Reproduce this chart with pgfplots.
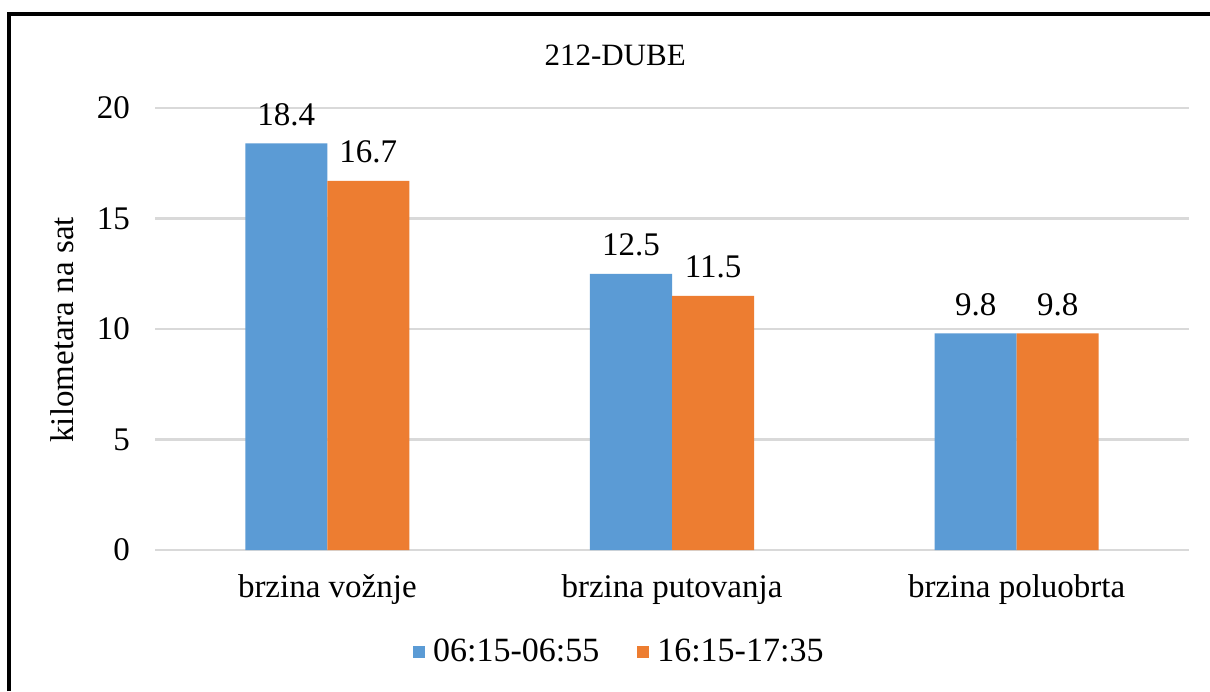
\documentclass[border=0pt]{standalone}
\usepackage{pgfplots}
\pgfplotsset{compat=1.18}
\usepackage{fontspec}
\setmainfont{Liberation Serif}
\definecolor{sblue}{HTML}{5B9BD5}
\definecolor{sorange}{HTML}{ED7D31}
\definecolor{gridc}{HTML}{D9D9D9}
\pgfplotstableread{
x a b
0 18.4 16.7
1 12.5 11.5
2 9.8 9.8
}\datatable
\begin{document}
\begin{tikzpicture}
\useasboundingbox (0pt,0pt) rectangle (605pt,345.5pt);
\fill[white] (0pt,0pt) rectangle (605pt,345.5pt);
\draw[line width=2pt] (4.5pt,0pt) -- (4.5pt,338.5pt) -- (605pt,338.5pt);
\begin{axis}[
  at={(77.5pt,70.5pt)}, anchor=south west,
  scale only axis, width=517pt, height=221pt,
  ybar=0pt, bar width=0.238,
  xmin=-0.5, xmax=2.5, ymin=0, ymax=20,
  xtick=data, xticklabels={brzina vožnje, brzina putovanja, brzina poluobrta},
  ytick={0,5,10,15,20},
  ymajorgrids, grid style={gridc, line width=1.2pt},
  axis line style={draw=none},
  major tick length=0pt,
  /pgf/number format/assume math mode=true,
  ticklabel style={font=\rmfamily\fontsize{16.5pt}{19pt}\selectfont},
  yticklabel style={xshift=-9pt},
  xticklabel style={anchor=center, yshift=-20pt},
  title={212-DUBE},
  title style={at={(axis description cs:0.445,1.093)}, anchor=center, font=\rmfamily\fontsize{15.5pt}{18pt}\selectfont},
  ylabel={kilometara na sat},
  ylabel style={at={(axis description cs:-0.09,0.498)}, anchor=center, rotate=0, font=\rmfamily\fontsize{16.5pt}{19pt}\selectfont},
  nodes near coords,
  nodes near coords style={anchor=base, yshift=9pt, font=\rmfamily\fontsize{16.5pt}{19pt}\selectfont, /pgf/number format/fixed, /pgf/number format/precision=1, /pgf/number format/fixed zerofill, /pgf/number format/assume math mode=true},
  legend columns=2,
  legend style={draw=none, at={(axis description cs:0.45,-0.231)}, anchor=center, font=\rmfamily\fontsize{17pt}{20pt}\selectfont, /tikz/every even column/.append style={column sep=17pt}},
  legend image code/.code={\fill[#1] (0pt,-3pt) rectangle (6pt,3pt); \path (8pt,0pt);},
]
\addplot[fill=sblue, draw=none] table[x=x, y=a] {\datatable};
\addplot[fill=sorange, draw=none] table[x=x, y=b] {\datatable};
\legend{06:15-06:55, 16:15-17:35}
\end{axis}
\end{tikzpicture}
\end{document}
